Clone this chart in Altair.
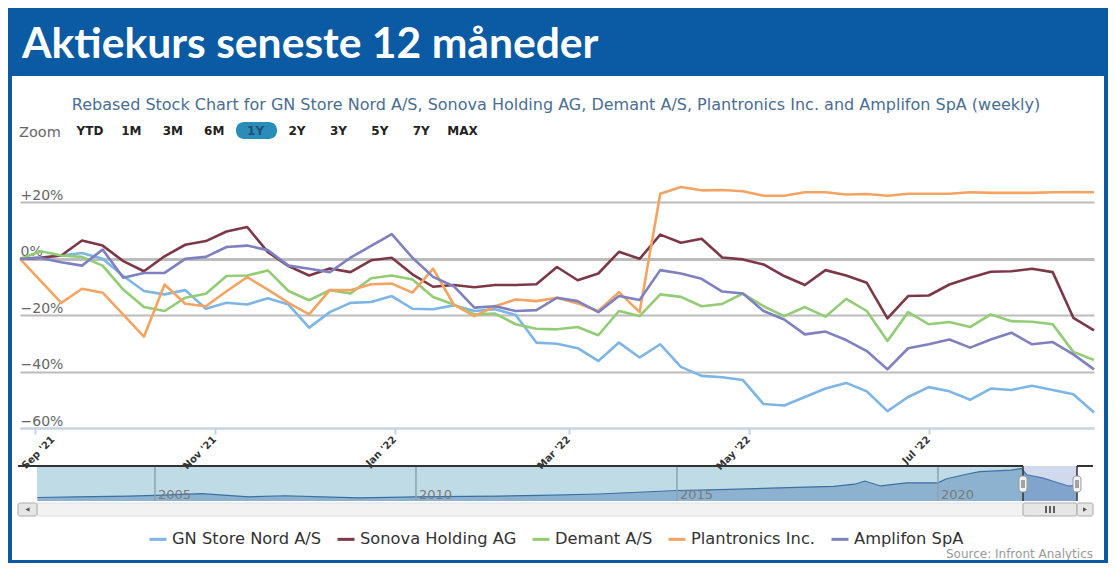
import altair as alt
import pandas as pd

# ---------------- data ----------------
TITLE = "Aktiekurs seneste 12 måneder"
SUBTITLE = ("Rebased Stock Chart for GN Store Nord A/S, Sonova Holding AG, Demant A/S, "
            "Plantronics Inc. and Amplifon SpA (weekly)")
SOURCE = "Source: Infront Analytics"
ZOOM_LABEL = "Zoom"
zoom_buttons = ["YTD", "1M", "3M", "6M", "1Y", "2Y", "3Y", "5Y", "7Y", "MAX"]
active_button = "1Y"

series_names = ["GN Store Nord A/S", "Sonova Holding AG", "Demant A/S",
                "Plantronics Inc.", "Amplifon SpA"]
series_colors = ["#7cb5e6", "#7d3848", "#92cc74", "#f4a462", "#7f80c0"]

first_week = "2021-08-27"
n_weeks = 53

gn = [0, 0.5, 1.2, 2.1, 0, -6.1, -11.4, -12.6, -11.1, -17.7, -15.6, -16.2, -14.0,
      -16.2, -24.4, -18.9, -15.6, -15.3, -13.2, -17.7, -17.9, -16.5, -18.5, -17.9,
      -19.9, -29.7, -30.1, -31.7, -36.2, -29.7, -35.0, -30.3, -38.3, -41.5, -42.0,
      -43.0, -51.5, -52.0, -49.0, -46.0, -44.0, -47.0, -54.0, -49.0, -45.5, -47.0,
      -50.0, -46.0, -46.5, -45.0, -46.5, -48.0, -54.5]
sonova = [0, 0.4, 1.2, 6.5, 4.7, -0.8, -4.4, 0.9, 5.0, 6.3, 9.7, 11.3, 2.4, -2.6,
          -5.9, -3.4, -4.7, -0.5, 0.4, -5.5, -9.9, -9.3, -10.1, -9.3, -9.3, -9.0,
          -2.9, -7.6, -5.2, 2.5, 0, 8.6, 5.7, 7.1, 0.5, -0.2, -2.0, -6.1, -9.3, -4.0,
          -5.9, -8.5, -21.1, -13.2, -13.0, -9.1, -6.7, -4.6, -4.4, -3.5, -4.7,
          -20.9, -25.4]
demant = [0, 2.7, 1.2, 0.7, -2.4, -10.9, -17.1, -18.5, -13.8, -12.4, -6.1, -5.9,
          -4.1, -11.4, -14.7, -11.1, -12.3, -6.9, -5.9, -7.3, -13.5, -16.2, -19.7,
          -19.4, -23.2, -24.8, -25.0, -24.2, -27.1, -18.5, -20.3, -12.6, -13.5,
          -16.8, -16.0, -12.3, -16.8, -20.3, -17.1, -20.5, -14.2, -18.5, -29.1,
          -18.9, -23.2, -22.4, -24.2, -19.7, -22.1, -22.3, -23.2, -33.0, -35.9]
plantronics = [0, -7.8, -15.6, -10.6, -12.0, -19.8, -27.6, -9.1, -15.9, -16.8,
               -11.5, -6.5, -10.9, -15.6, -19.7, -11.1, -11.1, -9.0, -8.8, -12.0,
               -3.5, -16.2, -20.3, -16.8, -14.4, -15.0, -13.8, -15.8, -18.5, -11.8,
               -18.9, 23.1, 25.5, 24.3, 24.4, 24.0, 22.4, 22.4, 23.6, 23.6, 22.8,
               23.0, 22.4, 23.1, 23.1, 23.1, 23.6, 23.4, 23.4, 23.4, 23.6, 23.7, 23.6]
amplifon = [0, 0.3, -1.2, -2.4, 3.3, -6.7, -5.0, -5.0, 0, 0.7, 4.2, 4.7, 3.1, -2.4,
            -3.5, -4.7, 0.4, 4.6, 8.8, 0.4, -6.4, -9.7, -17.3, -16.8, -18.5, -18.2,
            -13.8, -15.0, -18.9, -13.2, -14.6, -4.0, -5.2, -7.1, -11.6, -12.3,
            -18.5, -21.5, -26.8, -25.8, -28.8, -32.7, -39.2, -31.7, -30.3, -28.6,
            -31.5, -28.6, -26.2, -30.3, -29.5, -33.9, -39.2]

y_ticks = [-60, -40, -20, 0, 20]
x_tick_dates = ["2021-09-01", "2021-11-01", "2022-01-01", "2022-03-01",
                "2022-05-01", "2022-07-01"]
x_tick_labels = ["Sep '21", "Nov '21", "Jan '22", "Mar '22", "May '22", "Jul '22"]

# long-history navigator series (relative level)
nav_years = [2002.75, 2003.5, 2004.5, 2005.0, 2005.9, 2006.8, 2007.5, 2008.2,
             2008.9, 2010.0, 2011.0, 2011.6, 2012.4, 2013.5, 2015.0, 2016.0,
             2017.3, 2018.0, 2018.4, 2018.6, 2018.9, 2019.4, 2020.0, 2020.15,
             2020.5, 2020.8, 2021.1, 2021.4, 2021.6, 2021.7, 2022.0, 2022.3,
             2022.5, 2022.65]
nav_levels = [0.10, 0.12, 0.14, 0.16, 0.21, 0.12, 0.15, 0.12, 0.09, 0.12, 0.13,
              0.14, 0.16, 0.20, 0.30, 0.33, 0.39, 0.42, 0.48, 0.57, 0.43, 0.52,
              0.52, 0.63, 0.75, 0.84, 0.86, 0.88, 0.93, 0.75, 0.66, 0.52, 0.43, 0.43]
nav_year_marks = [2005, 2010, 2015, 2020]

# ---------------- layout ----------------
OX, OY = 20, 152          # page position of the plot origin
PW, PH = 1074, 276        # plot size
BLUE = "#0b5aa4"
FONT = "DejaVu Sans"

one = pd.DataFrame({"k": [0]})


def vx(x):
    return alt.value(x - OX)


def vy(y):
    return alt.value(y - OY)


def rect(x1, y1, x2, y2, fill, stroke=None, sw=0, r=0, opacity=1.0):
    kw = dict(fill=fill, strokeWidth=sw, cornerRadius=r, fillOpacity=opacity)
    if stroke:
        kw["stroke"] = stroke
    return alt.Chart(one).mark_rect(**kw).encode(
        x=vx(x1), x2=vx(x2), y=vy(y1), y2=vy(y2))


def rule(x1, y1, x2, y2, color, w=1.0):
    return alt.Chart(one).mark_rule(color=color, strokeWidth=w).encode(
        x=vx(x1), x2=vx(x2), y=vy(y1), y2=vy(y2))


def label(x, y, s, size, color, align="left", baseline="middle",
          weight="normal", font=FONT):
    return alt.Chart(one).mark_text(
        text=s, fontSize=size, color=color, align=align, baseline=baseline,
        fontWeight=weight, font=font).encode(x=vx(x), y=vy(y))


def tri(x, y, shape):
    return alt.Chart(one).mark_point(
        shape=shape, filled=True, size=22, color="#555", opacity=1).encode(
        x=vx(x), y=vy(y))


# ---------------- main lines ----------------
weeks = pd.date_range(first_week, periods=n_weeks, freq="7D").strftime("%Y-%m-%d")
rows = []
for name, vals in zip(series_names, [gn, sonova, demant, plantronics, amplifon]):
    for d, v in zip(weeks, vals):
        rows.append({"date": d, "value": v, "series": name})
df = pd.DataFrame(rows)


def dt(s):
    y, m, d = (int(p) for p in s.split("-"))
    return alt.DateTime(year=y, month=m, date=d, utc=True)


x_scale = alt.Scale(type="utc", domain=[dt(weeks[0]), dt(weeks[-1])])
y_label_expr = ("datum.value > 0 ? '+' + datum.value + '%' : "
                "(datum.value < 0 ? '\u2212' + abs(datum.value) + '%' : '0%')")

lines = alt.Chart(df).mark_line(strokeWidth=2.6, strokeJoin="round").encode(
    x=alt.X("date:T", scale=x_scale,
            axis=alt.Axis(values=[dt(s) for s in x_tick_dates], labels=False,
                          title=None, grid=False,
                          domainColor="#c5d3e3", domainWidth=2,
                          tickColor="#c5d3e3", tickWidth=2, tickSize=6)),
    y=alt.Y("value:Q",
            scale=alt.Scale(domain=[-60, 37.9], nice=False, zero=False),
            axis=alt.Axis(values=y_ticks, title=None, domain=False, ticks=False,
                          tickSize=0, labelAlign="left", labelBaseline="alphabetic",
                          labelPadding=0, labelOffset=-3, labelExpr=y_label_expr,
                          labelFont=FONT, labelFontSize=14, labelColor="#666",
                          gridColor=alt.condition("datum.value == -60",
                                                  alt.value("#c5d3e3"),
                                                  alt.value("#bcbcbc")),
                          gridWidth=alt.condition("datum.value == 0",
                                                  alt.value(3), alt.value(2)))),
    color=alt.Color("series:N",
                    scale=alt.Scale(domain=series_names, range=series_colors),
                    legend=alt.Legend(orient="none", legendX=128, legendY=377,
                                      direction="horizontal", columns=5, title=None,
                                      symbolType="stroke", symbolStrokeWidth=3,
                                      symbolSize=289, labelFont=FONT,
                                      labelFontSize=16.3, labelColor="#333",
                                      columnPadding=9, labelOffset=4, padding=0,
                                      labelLimit=300)),
)

# x tick labels drawn through the same time scale (first one nudged right,
# as in the original, so it stays inside the frame)
xl = pd.DataFrame({"date": x_tick_dates, "label": x_tick_labels})
xlab_style = dict(angle=315, align="right", baseline="middle", font=FONT,
                  fontSize=10, fontWeight="bold", color="#333")
xlab_rest = alt.Chart(xl.iloc[1:]).mark_text(**xlab_style).encode(
    x=alt.X("date:T", scale=x_scale), y=alt.value(PH + 10), text="label:N")
xlab_first = alt.Chart(xl.iloc[:1]).mark_text(dx=13, dy=13, **xlab_style).encode(
    x=alt.X("date:T", scale=x_scale), y=alt.value(PH + 10), text="label:N")
main = alt.layer(lines, xlab_rest, xlab_first)

# ---------------- navigator ----------------
navdf = pd.DataFrame({"year": nav_years, "level": nav_levels})
marks = pd.DataFrame({"year": nav_year_marks,
                      "label": [str(y) for y in nav_year_marks]})
nav_x_scale = alt.Scale(domain=[2002.74, 2022.97], range=[37 - OX, 1093 - OX],
                        nice=False, zero=False)
nav_y_scale = alt.Scale(domain=[0, 1], range=[501 - OY, 466 - OY],
                        nice=False, zero=False)

nav_area = alt.Chart(navdf).mark_area(
    color="#8cb2cf", opacity=1,
    line={"color": "#3c70a4", "strokeWidth": 1.2}).encode(
    x=alt.X("year:Q", scale=nav_x_scale, axis=None),
    y=alt.Y("level:Q", scale=nav_y_scale, axis=None),
    y2=vy(501))
nav_rules = alt.Chart(marks).mark_rule(color="#8ea2b3", strokeWidth=1.5).encode(
    x=alt.X("year:Q", scale=nav_x_scale, axis=None), y=vy(466), y2=vy(501))
nav_text = alt.Chart(marks).mark_text(
    align="left", baseline="alphabetic", dx=3, fontSize=13, color="#7a7a7a",
    font=FONT).encode(
    x=alt.X("year:Q", scale=nav_x_scale, axis=None), y=vy(499), text="label:N")
nav = alt.layer(nav_area, nav_rules, nav_text)

# ---------------- decorations ----------------
frame = [
    rect(8, 8, 1108, 76, BLUE),        # title band
    rect(8, 76, 12, 563, BLUE),        # left border
    rect(1104, 76, 1108, 563, BLUE),   # right border
]
before_nav = [rect(37, 466, 1023, 501, "#bfdbe6")]

after_nav = [
    rect(1023, 466, 1077, 501, "#6685c2", opacity=0.3),   # selected range mask
    rule(18, 466, 1023, 466, "#333", 2),
    rule(1077, 466, 1093, 466, "#333", 2),
    rule(1023, 466, 1023, 501, "#333", 1.5),
    rule(1077, 466, 1077, 501, "#333", 1.5),
    rect(1019, 476, 1027, 492, "#f2f2f2", "#999", 1, 3),
    rect(1073, 476, 1081, 492, "#f2f2f2", "#999", 1, 3),
    rule(1022, 480, 1022, 488, "#555", 1),
    rule(1024, 480, 1024, 488, "#555", 1),
    rule(1076, 480, 1076, 488, "#555", 1),
    rule(1078, 480, 1078, 488, "#555", 1),
    # scrollbar
    rect(37, 503, 1023, 516, "#f2f2f2", "#e0e0e0", 1),
    rect(18, 503, 37, 516, "#e6e6e6", "#aaa", 1, 2),
    rect(1023, 503, 1077, 516, "#e6e6e6", "#aaa", 1, 2),
    rect(1077, 503, 1093, 516, "#e6e6e6", "#aaa", 1, 2),
    rule(1046, 506, 1046, 513, "#333", 1.5),
    rule(1050, 506, 1050, 513, "#333", 1.5),
    rule(1054, 506, 1054, 513, "#333", 1.5),
    tri(27.5, 509.5, "triangle-left"),
    tri(1085, 509.5, "triangle-right"),
]

texts = [
    label(22, 45, TITLE, 42.6, "white", weight="bold", font="Lato"),
    label(556, 105, SUBTITLE, 16, "#4a6d92", align="center"),
    label(19, 133, ZOOM_LABEL, 14.5, "#666"),
    rect(236, 122, 277, 139, "#2a8db8", r=8),
]
bx0, bstep = 90, 41.4
for k, b in enumerate(zoom_buttons):
    texts.append(label(bx0 + k * bstep, 131, b, 12,
                       "#1f4f7a" if b == active_button else "#222",
                       align="center", weight="bold"))
texts.append(label(1093, 554, SOURCE, 12, "#999", align="right"))
texts.append(rect(8, 560, 1108, 563, BLUE))   # bottom border

chart = alt.layer(*frame, *before_nav, main, nav, *after_nav, *texts).resolve_scale(
    x="independent", y="independent"
).properties(
    width=PW, height=PH, background="white",
    autosize=alt.AutoSizeParams(type="none"),
    padding={"left": OX - 8, "top": OY - 8,
             "right": 1108 - OX - PW, "bottom": 563 - OY - PH},
).configure_view(strokeWidth=0)

chart.save("out.html", embed_options={"renderer": "svg", "actions": False})
